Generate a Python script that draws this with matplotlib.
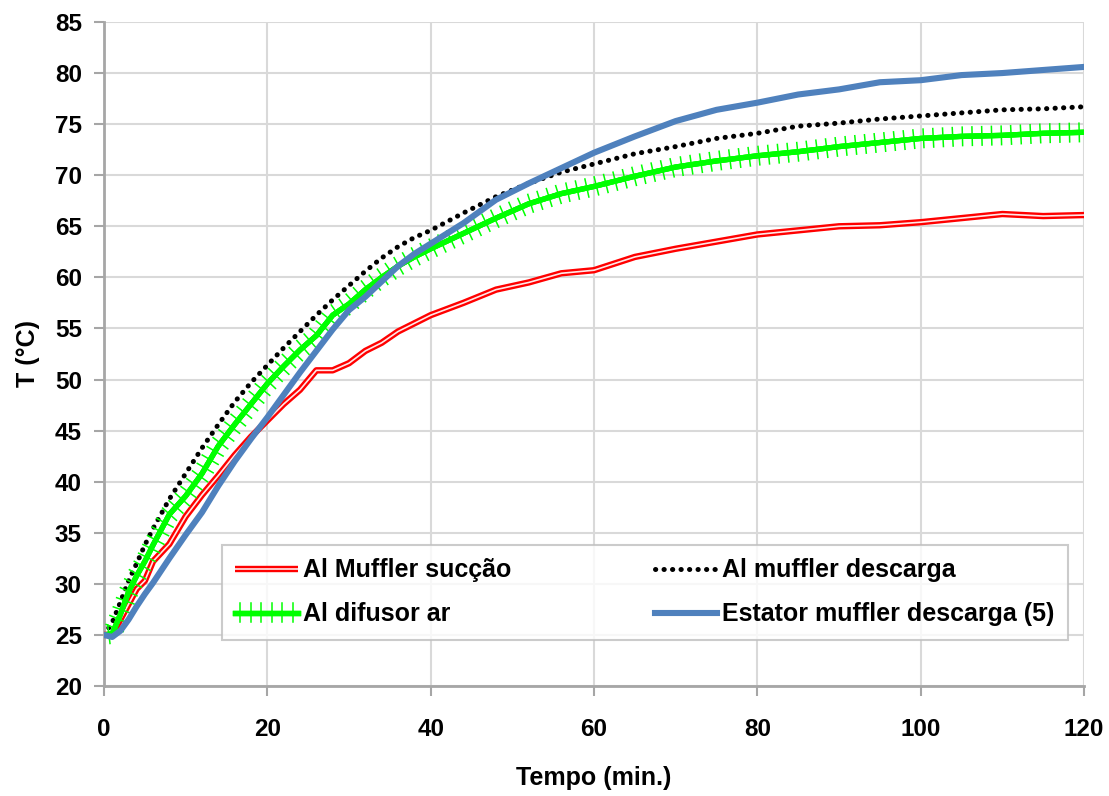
import matplotlib
matplotlib.use("Agg")
import matplotlib.pyplot as plt
import matplotlib.patheffects as pe

# ---- data ----
tempo = [0, 1, 2, 3, 4, 5, 6, 8, 10, 12, 14, 16, 18, 20, 22, 24, 26, 28, 30,
         32, 34, 36, 38, 40, 44, 48, 52, 56, 60, 65, 70, 75, 80, 85, 90, 95,
         100, 105, 110, 115, 120]

al_muffler_succao = [25.0, 25.0, 26.5, 28.0, 29.5, 30.3, 32.2, 33.9, 36.6, 38.7,
                     40.6, 42.6, 44.4, 46.0, 47.6, 49.0, 50.9, 50.9, 51.6, 52.8,
                     53.6, 54.7, 55.5, 56.3, 57.5, 58.8, 59.5, 60.4, 60.7, 62.0,
                     62.8, 63.5, 64.2, 64.6, 65.0, 65.1, 65.4, 65.8, 66.2, 66.0, 66.1]

al_muffler_descarga = [25.0, 26.2, 28.2, 30.3, 32.0, 33.8, 35.4, 38.3, 40.8, 43.3,
                       45.6, 47.8, 49.7, 51.4, 53.1, 54.7, 56.3, 57.8, 59.2, 60.6,
                       61.9, 63.0, 63.9, 64.6, 66.3, 67.9, 69.2, 70.3, 71.1, 72.1,
                       72.8, 73.6, 74.1, 74.8, 75.1, 75.5, 75.8, 76.1, 76.4, 76.5, 76.7]

al_difusor_ar = [25.0, 25.1, 27.0, 29.2, 30.8, 32.2, 33.8, 36.8, 38.6, 40.8,
                 43.5, 45.6, 47.6, 49.6, 51.3, 52.9, 54.3, 56.3, 57.4, 58.8,
                 60.0, 61.1, 62.0, 62.8, 64.3, 65.8, 67.2, 68.2, 68.9, 69.9,
                 70.8, 71.4, 71.9, 72.3, 72.8, 73.2, 73.6, 73.8, 73.9, 74.1, 74.2]

estator_muffler_descarga = [25.0, 24.8, 25.4, 26.5, 27.8, 29.0, 30.1, 32.5, 34.8, 37.0,
                            39.6, 42.0, 44.2, 46.3, 48.5, 50.7, 52.8, 54.9, 56.8, 58.1,
                            59.6, 61.1, 62.3, 63.3, 65.3, 67.6, 69.2, 70.7, 72.2, 73.8,
                            75.3, 76.4, 77.1, 77.9, 78.4, 79.1, 79.3, 79.8, 80.0, 80.3, 80.6]

labels = ["Al Muffler sucção", "Al muffler descarga", "Al difusor ar",
          "Estator muffler descarga (5)"]
x_ticks = [0, 20, 40, 60, 80, 100, 120]
y_ticks = [20, 25, 30, 35, 40, 45, 50, 55, 60, 65, 70, 75, 80, 85]

plt.rcParams['font.family'] = ['Liberation Sans', 'DejaVu Sans']

fig = plt.figure(figsize=(11.09, 7.96), dpi=100)
ax = fig.add_axes([0.0938, 0.1382, 0.8837, 0.8342])

# red hollow line
l_red, = ax.plot(tempo, al_muffler_succao, color='#FF0000', lw=4.6, label=labels[0],
                 solid_capstyle='butt', zorder=3,
                 path_effects=[pe.Normal(), pe.Stroke(linewidth=1.2, foreground='#FFE8E8')])
# black dotted
l_blk, = ax.plot(tempo, al_muffler_descarga, color='black', lw=3.6,
                 linestyle=(0, (0.05, 1.65)), dash_capstyle='round', label=labels[1], zorder=4)
# green with ticks
l_grn, = ax.plot(tempo, al_difusor_ar, color='#00FF00', lw=3.8, label=labels[2], zorder=5,
                 path_effects=[pe.withTickedStroke(angle=90, spacing=7, length=0.95, linewidth=1.1),
                               pe.withTickedStroke(angle=-90, spacing=7, length=0.95, linewidth=1.1),
                               pe.Normal()])
# blue
l_blu, = ax.plot(tempo, estator_muffler_descarga, color='#4F81BD', lw=4.4, label=labels[3], zorder=6)

ax.set_xlim(0, 120)
ax.set_ylim(20, 85)
ax.set_xticks(x_ticks)
ax.set_yticks(y_ticks)
ax.grid(True, color='#D9D9D9', lw=1.5)
ax.set_axisbelow(True)
for s in ['top', 'right']:
    ax.spines[s].set_visible(False)
for s in ['left', 'bottom']:
    ax.spines[s].set_color('#A6A6A6')
    ax.spines[s].set_linewidth(2)
ax.tick_params(axis='both', direction='out', length=7, width=1.5, color='#A6A6A6',
               labelsize=17.5)
ax.tick_params(axis='x', pad=16)
ax.tick_params(axis='y', pad=9)
for lab in ax.get_xticklabels() + ax.get_yticklabels():
    lab.set_fontweight('bold')

ax.set_xlabel('Tempo (min.)', fontsize=18, fontweight='bold', labelpad=18)
ax.set_ylabel('T (°C)', fontsize=18, fontweight='bold', labelpad=11)

# column-wise filling: col1 = red, green ; col2 = black, blue
leg = ax.legend(handles=[l_red, l_grn, l_blk, l_blu], ncol=2, mode='expand',
                loc='lower left', bbox_to_anchor=(0.12, 0.069, 0.864, 0.146),
                frameon=True, fancybox=False, borderaxespad=0, handlelength=2.5,
                handletextpad=0.2, labelspacing=0.8, borderpad=0.55,
                prop={'weight': 'bold', 'size': 18})
leg.get_frame().set_edgecolor('#BFBFBF')
leg.get_frame().set_linewidth(1.5)

fig.savefig('out.png', dpi=100)
